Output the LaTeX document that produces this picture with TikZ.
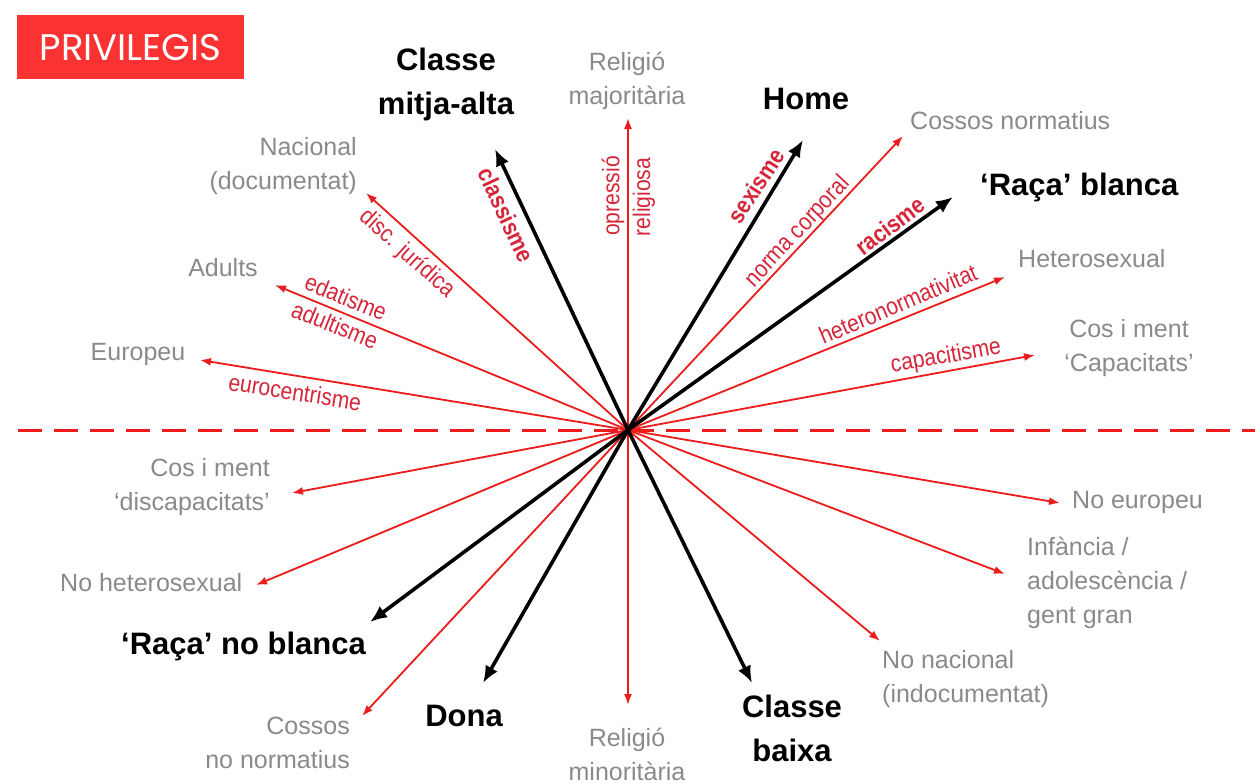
\documentclass[tikz,border=0pt]{standalone}
\usepackage{fontspec}
\setmainfont{Liberation Sans}
\newfontfamily\poppins{Poppins}
\newfontfamily\narrowsans{Liberation Sans}[FakeStretch=0.88]
\usetikzlibrary{arrows.meta}
\definecolor{lred}{RGB}{236,28,28}
\definecolor{tred}{RGB}{214,38,58}
\definecolor{tgray}{RGB}{138,138,138}
\definecolor{boxred}{RGB}{250,50,50}
\begin{document}
\begin{tikzpicture}[x=1pt,y=-1pt,
  redarr/.style={draw=lred, line width=1.8pt, -{Latex[length=11pt,width=8pt]}},
  blkarr/.style={draw=black, line width=3.6pt, -{Latex[length=17pt,width=14pt]}},
  gl/.style={text=tgray, font=\fontsize{25}{34}\selectfont, inner sep=0pt, align=center},
  bl/.style={text=black, font=\fontsize{31}{44}\selectfont\bfseries, inner sep=0pt, align=center},
  rl/.style={text=tred, font=\narrowsans\fontsize{24}{26}\selectfont, inner sep=0pt},
  rlb/.style={text=tred, font=\narrowsans\fontsize{24}{26}\selectfont\bfseries, inner sep=0pt},
  divline/.style={draw=lred, line width=3pt, dash pattern=on 24pt off 12pt}
]
\useasboundingbox (0,0) rectangle (1255,784);
\fill[white] (0,0) rectangle (1255,784);

% title box
\node[fill=boxred, minimum width=227pt, minimum height=64pt, anchor=north west,
      inner sep=0pt, text=white, font=\poppins\fontsize{37}{37}\selectfont] (priv) at (17,15) {PRIVILEGIS};

% centre and divider
\coordinate (C) at (628,430);
\coordinate (dl) at (18,430);
\coordinate (dr) at (1255,430);
\draw[divline] (dl) -- (dr);

% arrow tips
\coordinate (tCMA) at (495,149);
\coordinate (tRM) at (628,118);
\coordinate (tH) at (803,140);
\coordinate (tCN) at (903,136);
\coordinate (tRB) at (953,197);
\coordinate (tHet) at (1005,277);
\coordinate (tCap) at (1035,355);
\coordinate (tNac) at (366,193);
\coordinate (tAd) at (275,285);
\coordinate (tEu) at (200,360);
\coordinate (tDis) at (292,493);
\coordinate (tNH) at (256,585);
\coordinate (tRNB) at (370,622);
\coordinate (tCNN) at (362,716);
\coordinate (tD) at (483,683);
\coordinate (tRMin) at (628,705);
\coordinate (tCB) at (752,683);
\coordinate (tNN) at (880,641);
\coordinate (tInf) at (1005,574);
\coordinate (tNE) at (1060,503);

% red arrows
\foreach \t in {tRM,tCN,tHet,tCap,tNac,tAd,tEu,tDis,tNH,tCNN,tRMin,tNN,tInf,tNE}
  \draw[redarr] (C) -- (\t);
% black arrows
\foreach \t in {tCMA,tH,tRB,tRNB,tD,tCB}
  \draw[blkarr] (C) -- (\t);

% black labels
\node[bl] (lCMA) at (446,84) {Classe\\mitja-alta};
\node[bl] (lH) at (806,99) {Home};
\node[bl, anchor=west] (lRB) at (980,187) {‘Raça’ blanca};
\node[bl, anchor=east] (lRNB) at (366,646) {‘Raça’ no blanca};
\node[bl] (lD) at (464,716) {Dona};
\node[bl] (lCB) at (792,728) {Classe\\baixa};

% gray labels
\node[gl] (lRM) at (627,81) {Religió\\majoritària};
\node[gl, anchor=west] (lCN) at (910,121) {Cossos normatius};
\node[gl, anchor=west] (lHet) at (1018,259) {Heterosexual};
\node[gl] (lCap) at (1129,348) {Cos i ment\\‘Capacitats’};
\node[gl, anchor=east, align=right] (lNac) at (357,166) {Nacional\\(documentat)};
\node[gl] (lAd) at (223,268) {Adults};
\node[gl] (lEu) at (138,354) {Europeu};
\node[gl, anchor=east, align=right] (lDis) at (270,487) {Cos i ment\\‘discapacitats’};
\node[gl, anchor=west] (lNH) at (60,583) {No heterosexual};
\node[gl, anchor=east, align=right] (lCNN) at (350,743) {Cossos\\no normatius};
\node[gl] (lRMin) at (627,754) {Religió\\minoritària};
\node[gl, anchor=west, align=left] (lNN) at (882,679) {No nacional\\(indocumentat)};
\node[gl, anchor=west, align=left] (lInf) at (1027,583) {Infància /\\adolescència /\\gent gran};
\node[gl, anchor=west] (lNE) at (1072,502) {No europeu};

% red axis labels
\node[rlb, rotate=-65] (rCl) at (506,215) {classisme};
\node[rl, rotate=90] (rOp) at (613,196) {opressió};
\node[rl, rotate=90] (rRe) at (644,197) {religiosa};
\node[rlb, rotate=57] (rSe) at (756,186) {sexisme};
\node[rl, rotate=47] (rNc) at (798,232) {norma corporal};
\node[rlb, rotate=37] (rRa) at (890,226) {racisme};
\node[rl, rotate=23] (rHe) at (898,304) {heteronormativitat};
\node[rl, rotate=10] (rCa) at (946,357) {capacitisme};
\node[rl, rotate=-42] (rDj) at (407,254) {disc. jurídica};
\node[rl, rotate=-22] (rEd) at (346,297) {edatisme};
\node[rl, rotate=-22] (rAd) at (335,325) {adultisme};
\node[rl, rotate=-9] (rEc) at (295,392) {eurocentrisme};
\end{tikzpicture}
\end{document}
